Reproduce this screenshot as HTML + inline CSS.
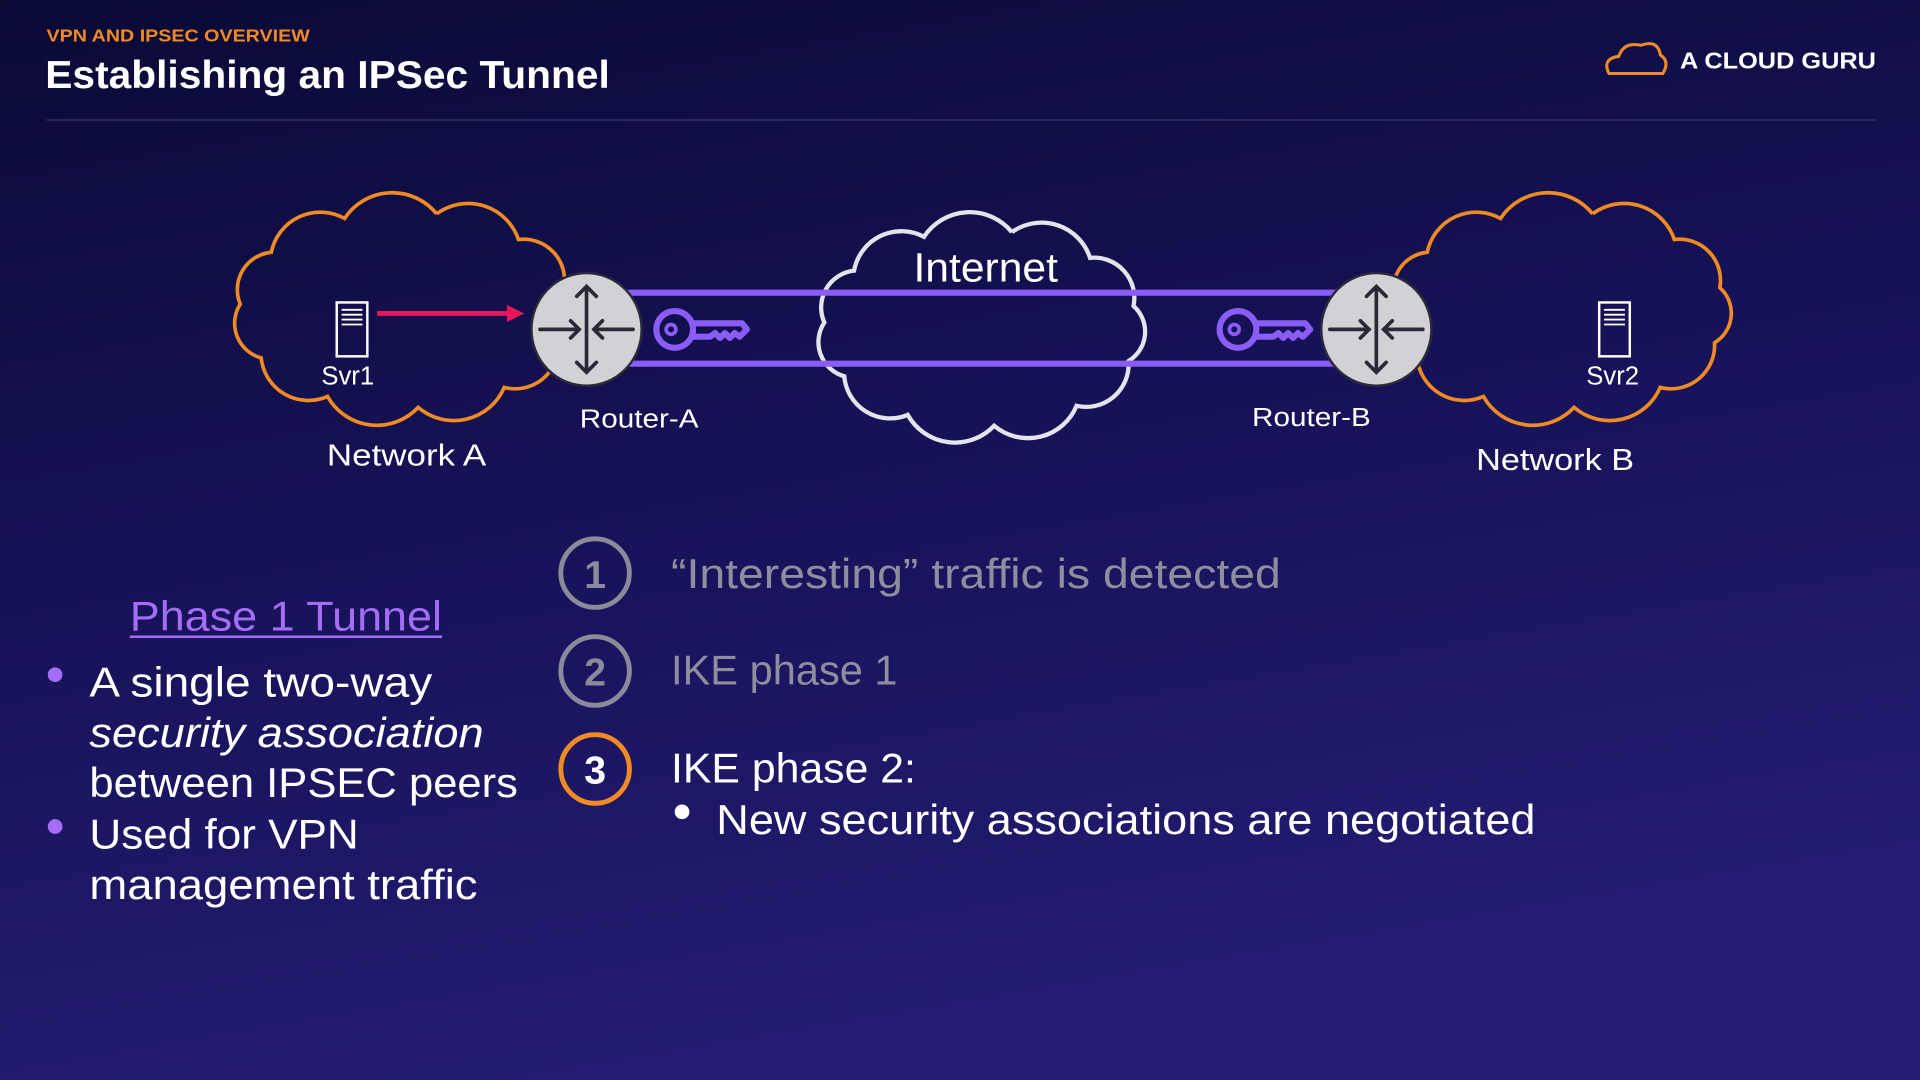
<!DOCTYPE html>
<html><head><meta charset="utf-8">
<style>
html,body{margin:0;padding:0;width:1920px;height:1080px;overflow:hidden;background:#14104f;}
svg{display:block}
text{font-family:"Liberation Sans",sans-serif;}
</style></head>
<body>
<svg width="1920" height="1080" viewBox="0 0 1568 882" xmlns="http://www.w3.org/2000/svg">
<defs>
<linearGradient id="bg" x1="0" y1="0" x2="0.3" y2="1">
<stop offset="0" stop-color="#0a0a35"/>
<stop offset="0.5" stop-color="#161257"/>
<stop offset="1" stop-color="#231c72"/>
</linearGradient>
</defs>
<rect width="1568" height="882" fill="url(#bg)"/>
<text x="38" y="34" fill="#f08a24" font-size="14" font-weight="bold" textLength="215" lengthAdjust="spacingAndGlyphs">VPN AND IPSEC OVERVIEW</text>
<text x="37" y="72" fill="#fff" font-size="32" font-weight="bold" textLength="461" lengthAdjust="spacingAndGlyphs">Establishing an IPSec Tunnel</text>
<line x1="38" y1="98" x2="1532" y2="98" stroke="#2a2a5c" stroke-width="1.5"/>
<!-- logo -->
<path d="M1314 60 Q1308 48 1322 46 Q1326 34 1340 37 Q1354 32 1356 45 Q1364 50 1358 60 Z" fill="none" stroke="#f08a24" stroke-width="2.5"/>
<text x="1372" y="56" fill="#fff" font-size="19" font-weight="bold" textLength="160" lengthAdjust="spacingAndGlyphs">A CLOUD GURU</text>

<!-- clouds -->
<path id="cA" fill="none" stroke="#f08a24" stroke-width="3"/>
<path id="cI" fill="none" stroke="#e4e4ec" stroke-width="3.5"/>
<path id="cB" fill="none" stroke="#f08a24" stroke-width="3"/>

<!-- tunnel -->
<line x1="512" y1="239" x2="1092" y2="239" stroke="#8b5cf6" stroke-width="5"/>
<line x1="512" y1="297" x2="1092" y2="297" stroke="#8b5cf6" stroke-width="5"/>

<!-- keys -->
<g fill="none" stroke="#8b5cf6" stroke-width="5" stroke-linejoin="round">
<circle cx="551" cy="269" r="15"/>
<path d="M566 264 L606 264 L610 269 L604 275 L600 272 L596 276 L592 272 L588 276 L584 272 L580 275 L566 275"/>
<circle cx="1011" cy="269" r="15"/>
<path d="M1026 264 L1066 264 L1070 269 L1064 275 L1060 272 L1056 276 L1052 272 L1048 276 L1044 272 L1040 275 L1026 275"/>
</g>
<circle cx="548" cy="269" r="4" fill="none" stroke="#8b5cf6" stroke-width="3"/>
<circle cx="1008" cy="269" r="4" fill="none" stroke="#8b5cf6" stroke-width="3"/>

<!-- routers -->
<ellipse cx="479" cy="269" rx="45" ry="46" fill="#d2d2d6" stroke="#2a2a3a" stroke-width="2"/>
<ellipse cx="1124" cy="269" rx="45" ry="46" fill="#d2d2d6" stroke="#2a2a3a" stroke-width="2"/>
<g stroke="#2a2a36" stroke-width="3" fill="none" stroke-linecap="round">
<path d="M479 234 V304 M471 242 L479 234 L487 242 M471 296 L479 304 L487 296"/>
<path d="M441 269 H473 M466 262 L473 269 L466 276 M517 269 H485 M492 262 L485 269 L492 276"/>
<path d="M1124 234 V304 M1116 242 L1124 234 L1132 242 M1116 296 L1124 304 L1132 296"/>
<path d="M1086 269 H1118 M1111 262 L1118 269 L1111 276 M1162 269 H1130 M1137 262 L1130 269 L1137 276"/>
</g>

<!-- servers -->
<g fill="none" stroke="#fff" stroke-width="2">
<rect x="275" y="247" width="25" height="44"/>
<rect x="1306" y="247" width="25" height="44"/>
</g>
<g stroke="#fff" stroke-width="1.5">
<path d="M279 253 H296 M279 257 H296 M279 261 H296 M279 265 H296"/>
<path d="M1310 253 H1327 M1310 257 H1327 M1310 261 H1327 M1310 265 H1327"/>
</g>
<!-- red arrow -->
<line x1="308" y1="256" x2="416" y2="256" stroke="#e8175d" stroke-width="4"/>
<path d="M414 249 L428 256 L414 263 Z" fill="#e8175d"/>

<g fill="#fff">
<text x="284" y="314" font-size="21" text-anchor="middle">Svr1</text>
<text x="1317" y="314" font-size="21" text-anchor="middle">Svr2</text>
<text x="522" y="349" font-size="21" text-anchor="middle" textLength="97" lengthAdjust="spacingAndGlyphs">Router-A</text>
<text x="1071" y="348" font-size="21" text-anchor="middle" textLength="97" lengthAdjust="spacingAndGlyphs">Router-B</text>
<text x="332" y="380" font-size="25" text-anchor="middle" textLength="130" lengthAdjust="spacingAndGlyphs">Network A</text>
<text x="1270" y="384" font-size="25" text-anchor="middle" textLength="129" lengthAdjust="spacingAndGlyphs">Network B</text>
<text x="805" y="230" font-size="33" text-anchor="middle" textLength="118" lengthAdjust="spacingAndGlyphs">Internet</text>
</g>

<!-- steps -->
<g fill="none" stroke-width="4">
<circle cx="486" cy="468" r="28" stroke="#8a8a9a"/>
<circle cx="486" cy="548" r="28" stroke="#8a8a9a"/>
<circle cx="486" cy="628" r="28" stroke="#f08a24"/>
</g>
<text x="486" y="480" font-size="32" font-weight="bold" fill="#8a8a9a" text-anchor="middle">1</text>
<text x="486" y="560" font-size="32" font-weight="bold" fill="#8a8a9a" text-anchor="middle">2</text>
<text x="486" y="640" font-size="32" font-weight="bold" fill="#fff" text-anchor="middle">3</text>
<text x="548" y="480" font-size="34" fill="#8e8e9e" textLength="498" lengthAdjust="spacingAndGlyphs">“Interesting” traffic is detected</text>
<text x="548" y="559" font-size="34" fill="#8e8e9e" textLength="185" lengthAdjust="spacingAndGlyphs">IKE phase 1</text>
<text x="548" y="639" font-size="34" fill="#fff" textLength="200" lengthAdjust="spacingAndGlyphs">IKE phase 2:</text>
<circle cx="557" cy="663" r="6" fill="#fff"/>
<text x="585" y="681" font-size="34" fill="#fff" textLength="669" lengthAdjust="spacingAndGlyphs">New security associations are negotiated</text>

<text x="106" y="515" font-size="34" fill="#a56cf5" textLength="255" lengthAdjust="spacingAndGlyphs">Phase 1 Tunnel</text>
<line x1="106" y1="520" x2="361" y2="520" stroke="#a56cf5" stroke-width="2"/>
<circle cx="45" cy="551" r="6" fill="#a56cf5"/>
<circle cx="45" cy="675" r="6" fill="#a56cf5"/>
<g fill="#fff" font-size="34">
<text x="73" y="569" textLength="280" lengthAdjust="spacingAndGlyphs">A single two-way</text>
<text x="73" y="610" font-style="italic" textLength="322" lengthAdjust="spacingAndGlyphs">security association</text>
<text x="73" y="651" textLength="350" lengthAdjust="spacingAndGlyphs">between IPSEC peers</text>
<text x="73" y="693" textLength="220" lengthAdjust="spacingAndGlyphs">Used for VPN</text>
<text x="73" y="734" textLength="317" lengthAdjust="spacingAndGlyphs">management traffic</text>
</g>
</svg>
<script>
function cloud(id,cx,cy,rx,ry,n){
  var pts=[];
  for(var i=0;i<n;i++){var a=-Math.PI/2+i*2*Math.PI/n+0.2;pts.push([cx+rx*Math.cos(a),cy+ry*Math.sin(a)]);}
  var d="M"+pts[0][0].toFixed(1)+" "+pts[0][1].toFixed(1);
  for(var i=1;i<=n;i++){var p=pts[i%n],q=pts[i-1];var c=Math.hypot(p[0]-q[0],p[1]-q[1]);var r=c*0.62;
    d+=" A"+r.toFixed(1)+" "+r.toFixed(1)+" 0 0 1 "+p[0].toFixed(1)+" "+p[1].toFixed(1);}
  document.getElementById(id).setAttribute("d",d);
}
cloud("cA",330,253,134,80,11);
cloud("cI",801,268,128,80,11);
cloud("cB",1274,253,134,80,11);
</script>
</body></html>
